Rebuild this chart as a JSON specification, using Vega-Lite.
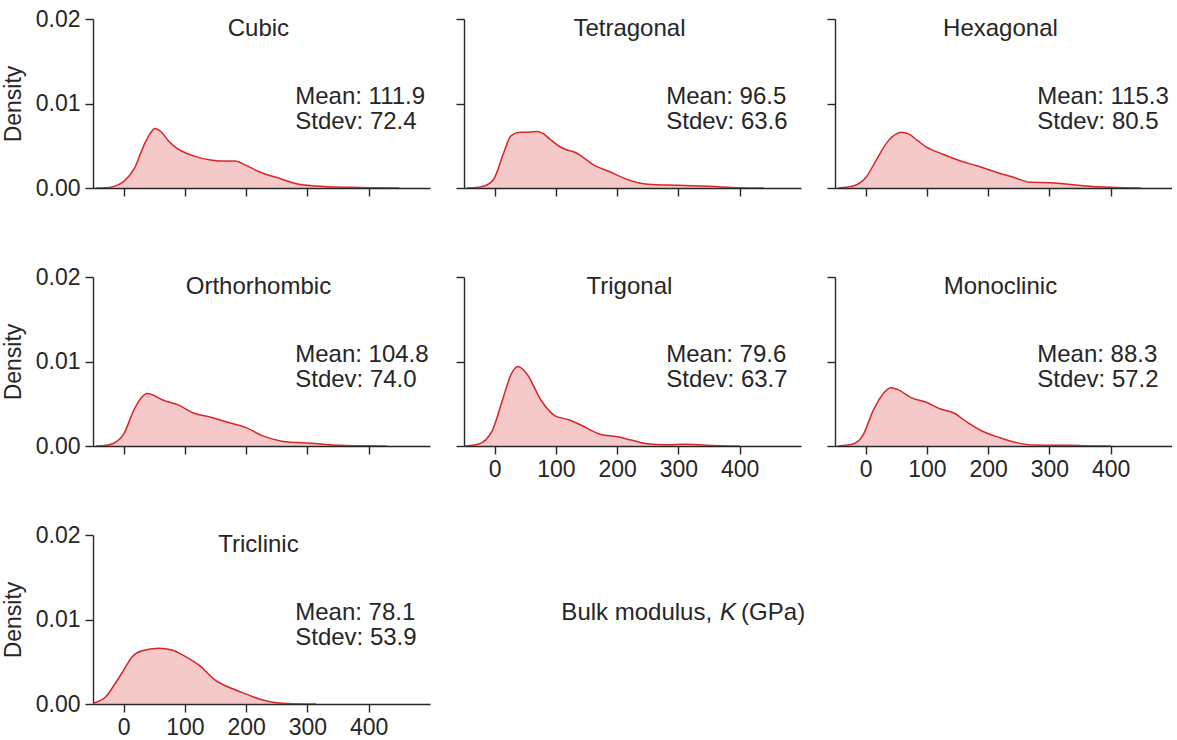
{
  "$schema": "https://vega.github.io/schema/vega-lite/v6.json",
  "padding": {"left": 2, "top": 8, "right": 0, "bottom": 0},
  "background": "white",
  "datasets": {
    "kde": [
      {"system":"Cubic","K":-45,"density":0},{"system":"Cubic","K":-30,"density":0.00003},{"system":"Cubic","K":-17,"density":0.00016},{"system":"Cubic","K":0,"density":0.00075},{"system":"Cubic","K":17,"density":0.00225},{"system":"Cubic","K":34,"density":0.0052},{"system":"Cubic","K":43,"density":0.0064},{"system":"Cubic","K":51,"density":0.00705},{"system":"Cubic","K":62,"density":0.0066},{"system":"Cubic","K":73,"density":0.0056},{"system":"Cubic","K":85,"density":0.0048},{"system":"Cubic","K":114,"density":0.0038},{"system":"Cubic","K":142,"density":0.0033},{"system":"Cubic","K":160,"density":0.0032},{"system":"Cubic","K":182,"density":0.0032},{"system":"Cubic","K":199,"density":0.0027},{"system":"Cubic","K":222,"density":0.0019},{"system":"Cubic","K":256,"density":0.0011},{"system":"Cubic","K":284,"density":0.00047},{"system":"Cubic","K":312,"density":0.00024},{"system":"Cubic","K":369,"density":0.00008},{"system":"Cubic","K":400,"density":0.00003},{"system":"Cubic","K":450,"density":0},
      {"system":"Tetragonal","K":-45,"density":0},{"system":"Tetragonal","K":-30,"density":0.00005},{"system":"Tetragonal","K":-18,"density":0.0002},{"system":"Tetragonal","K":-1,"density":0.0011},{"system":"Tetragonal","K":13,"density":0.0038},{"system":"Tetragonal","K":27,"density":0.0062},{"system":"Tetragonal","K":41,"density":0.0066},{"system":"Tetragonal","K":55,"density":0.0066},{"system":"Tetragonal","K":70,"density":0.0067},{"system":"Tetragonal","K":80,"density":0.0064},{"system":"Tetragonal","K":90,"density":0.0058},{"system":"Tetragonal","K":104,"density":0.005},{"system":"Tetragonal","K":118,"density":0.0045},{"system":"Tetragonal","K":132,"density":0.0042},{"system":"Tetragonal","K":145,"density":0.0036},{"system":"Tetragonal","K":160,"density":0.0028},{"system":"Tetragonal","K":189,"density":0.0019},{"system":"Tetragonal","K":210,"density":0.0012},{"system":"Tetragonal","K":236,"density":0.0006},{"system":"Tetragonal","K":250,"density":0.00045},{"system":"Tetragonal","K":300,"density":0.00032},{"system":"Tetragonal","K":350,"density":0.0002},{"system":"Tetragonal","K":400,"density":0.00004},{"system":"Tetragonal","K":440,"density":0},
      {"system":"Hexagonal","K":-45,"density":0},{"system":"Hexagonal","K":-22,"density":0.0002},{"system":"Hexagonal","K":1,"density":0.0013},{"system":"Hexagonal","K":18,"density":0.0034},{"system":"Hexagonal","K":35,"density":0.0054},{"system":"Hexagonal","K":50,"density":0.0064},{"system":"Hexagonal","K":58,"density":0.0066},{"system":"Hexagonal","K":70,"density":0.0064},{"system":"Hexagonal","K":85,"density":0.0056},{"system":"Hexagonal","K":98,"density":0.0049},{"system":"Hexagonal","K":126,"density":0.004},{"system":"Hexagonal","K":155,"density":0.0032},{"system":"Hexagonal","K":183,"density":0.0026},{"system":"Hexagonal","K":212,"density":0.0019},{"system":"Hexagonal","K":240,"density":0.0013},{"system":"Hexagonal","K":269,"density":0.00067},{"system":"Hexagonal","K":300,"density":0.00063},{"system":"Hexagonal","K":326,"density":0.00047},{"system":"Hexagonal","K":354,"density":0.00028},{"system":"Hexagonal","K":400,"density":0.00008},{"system":"Hexagonal","K":450,"density":0},
      {"system":"Orthorhombic","K":-45,"density":0},{"system":"Orthorhombic","K":-34,"density":0.00002},{"system":"Orthorhombic","K":-17,"density":0.0003},{"system":"Orthorhombic","K":0,"density":0.0014},{"system":"Orthorhombic","K":17,"density":0.0043},{"system":"Orthorhombic","K":30,"density":0.0058},{"system":"Orthorhombic","K":38,"density":0.0062},{"system":"Orthorhombic","K":46,"density":0.0061},{"system":"Orthorhombic","K":62,"density":0.0055},{"system":"Orthorhombic","K":91,"density":0.0048},{"system":"Orthorhombic","K":114,"density":0.0039},{"system":"Orthorhombic","K":142,"density":0.0034},{"system":"Orthorhombic","K":170,"density":0.0028},{"system":"Orthorhombic","K":199,"density":0.0022},{"system":"Orthorhombic","K":227,"density":0.0012},{"system":"Orthorhombic","K":256,"density":0.0006},{"system":"Orthorhombic","K":284,"density":0.0004},{"system":"Orthorhombic","K":312,"density":0.0003},{"system":"Orthorhombic","K":341,"density":0.00012},{"system":"Orthorhombic","K":398,"density":0.00002},{"system":"Orthorhombic","K":430,"density":0},
      {"system":"Trigonal","K":-48,"density":0},{"system":"Trigonal","K":-27,"density":0.0002},{"system":"Trigonal","K":-4,"density":0.0018},{"system":"Trigonal","K":13,"density":0.0055},{"system":"Trigonal","K":27,"density":0.0085},{"system":"Trigonal","K":38,"density":0.0094},{"system":"Trigonal","K":53,"density":0.0085},{"system":"Trigonal","K":75,"density":0.0055},{"system":"Trigonal","K":98,"density":0.0036},{"system":"Trigonal","K":121,"density":0.0031},{"system":"Trigonal","K":143,"density":0.0024},{"system":"Trigonal","K":172,"density":0.0014},{"system":"Trigonal","K":200,"density":0.0011},{"system":"Trigonal","K":223,"density":0.0007},{"system":"Trigonal","K":246,"density":0.0003},{"system":"Trigonal","K":279,"density":0.00016},{"system":"Trigonal","K":312,"density":0.0002},{"system":"Trigonal","K":345,"density":0.0001},{"system":"Trigonal","K":400,"density":0},
      {"system":"Monoclinic","K":-45,"density":0},{"system":"Monoclinic","K":-22,"density":0.0002},{"system":"Monoclinic","K":-5,"density":0.0012},{"system":"Monoclinic","K":13,"density":0.0043},{"system":"Monoclinic","K":30,"density":0.0063},{"system":"Monoclinic","K":41,"density":0.0069},{"system":"Monoclinic","K":52,"density":0.0067},{"system":"Monoclinic","K":75,"density":0.0057},{"system":"Monoclinic","K":98,"density":0.0052},{"system":"Monoclinic","K":121,"density":0.0044},{"system":"Monoclinic","K":144,"density":0.0039},{"system":"Monoclinic","K":166,"density":0.0028},{"system":"Monoclinic","K":189,"density":0.0018},{"system":"Monoclinic","K":218,"density":0.001},{"system":"Monoclinic","K":246,"density":0.0004},{"system":"Monoclinic","K":275,"density":0.00012},{"system":"Monoclinic","K":332,"density":0.00008},{"system":"Monoclinic","K":354,"density":0.00004},{"system":"Monoclinic","K":400,"density":0},
      {"system":"Triclinic","K":-50,"density":0.0001},{"system":"Triclinic","K":-30,"density":0.0008},{"system":"Triclinic","K":-14,"density":0.0024},{"system":"Triclinic","K":0,"density":0.004},{"system":"Triclinic","K":14,"density":0.0056},{"system":"Triclinic","K":30,"density":0.0063},{"system":"Triclinic","K":57,"density":0.0066},{"system":"Triclinic","K":79,"density":0.0064},{"system":"Triclinic","K":101,"density":0.0056},{"system":"Triclinic","K":123,"density":0.0046},{"system":"Triclinic","K":150,"density":0.0028},{"system":"Triclinic","K":178,"density":0.0018},{"system":"Triclinic","K":199,"density":0.0012},{"system":"Triclinic","K":221,"density":0.0006},{"system":"Triclinic","K":249,"density":0.00016},{"system":"Triclinic","K":276,"density":0.00004},{"system":"Triclinic","K":314,"density":0}
    ],
    "stats": [
      {"system":"Cubic","label":"Mean: 111.9\nStdev: 72.4"},
      {"system":"Tetragonal","label":"Mean: 96.5\nStdev: 63.6"},
      {"system":"Hexagonal","label":"Mean: 115.3\nStdev: 80.5"},
      {"system":"Orthorhombic","label":"Mean: 104.8\nStdev: 74.0"},
      {"system":"Trigonal","label":"Mean: 79.6\nStdev: 63.7"},
      {"system":"Monoclinic","label":"Mean: 88.3\nStdev: 57.2"},
      {"system":"Triclinic","label":"Mean: 78.1\nStdev: 53.9"}
    ],
    "caption": [
      {"a":"Bulk modulus,","b":"K","c":"(GPa)"}
    ]
  },
  "bounds": "flush",
  "columns": 3,
  "spacing": {"row": 89, "column": 34},
  "concat": [
      {"width": 337, "height": 169, "layer": [
        {"data": {"name": "kde"}, "transform": [{"filter": "datum.system === 'Cubic'"}],
         "mark": {"type": "area", "interpolate": "monotone", "color": "#d62728", "fillOpacity": 0.25, "line": {"color": "#d62728", "strokeWidth": 1.5}, "clip": true},
         "encoding": {
           "x": {"field": "K", "type": "quantitative", "scale": {"domain": [-50, 500], "nice": false, "zero": false}, "axis": {"values": [0,100,200,300,400], "labels": false, "title": null}},
           "y": {"field": "density", "type": "quantitative", "scale": {"domain": [0, 0.02], "nice": false}, "axis": {"values": [0,0.01,0.02], "format": ".2f", "title": "Density", "labelPadding": 5, "titlePadding": 10}}}},
        {"data": {"name": "stats"}, "transform": [{"filter": "datum.system === 'Cubic'"}],
         "mark": {"type": "text", "align": "center", "baseline": "alphabetic"},
         "encoding": {"x": {"datum": 220, "type": "quantitative"}, "y": {"datum": 0.018, "type": "quantitative"}, "text": {"field": "system"}}},
        {"data": {"name": "stats"}, "transform": [{"filter": "datum.system === 'Cubic'"}],
         "mark": {"type": "text", "align": "left", "baseline": "alphabetic", "lineBreak": "\n", "lineHeight": 25},
         "encoding": {"x": {"datum": 280, "type": "quantitative"}, "y": {"datum": 0.01, "type": "quantitative"}, "text": {"field": "label"}}}
      ]},
      {"width": 337, "height": 169, "layer": [
        {"data": {"name": "kde"}, "transform": [{"filter": "datum.system === 'Tetragonal'"}],
         "mark": {"type": "area", "interpolate": "monotone", "color": "#d62728", "fillOpacity": 0.25, "line": {"color": "#d62728", "strokeWidth": 1.5}, "clip": true},
         "encoding": {
           "x": {"field": "K", "type": "quantitative", "scale": {"domain": [-50, 500], "nice": false, "zero": false}, "axis": {"values": [0,100,200,300,400], "labels": false, "title": null}},
           "y": {"field": "density", "type": "quantitative", "scale": {"domain": [0, 0.02], "nice": false}, "axis": {"values": [0,0.01,0.02], "labels": false, "title": null}}}},
        {"data": {"name": "stats"}, "transform": [{"filter": "datum.system === 'Tetragonal'"}],
         "mark": {"type": "text", "align": "center", "baseline": "alphabetic"},
         "encoding": {"x": {"datum": 220, "type": "quantitative"}, "y": {"datum": 0.018, "type": "quantitative"}, "text": {"field": "system"}}},
        {"data": {"name": "stats"}, "transform": [{"filter": "datum.system === 'Tetragonal'"}],
         "mark": {"type": "text", "align": "left", "baseline": "alphabetic", "lineBreak": "\n", "lineHeight": 25},
         "encoding": {"x": {"datum": 280, "type": "quantitative"}, "y": {"datum": 0.01, "type": "quantitative"}, "text": {"field": "label"}}}
      ]},
      {"width": 337, "height": 169, "layer": [
        {"data": {"name": "kde"}, "transform": [{"filter": "datum.system === 'Hexagonal'"}],
         "mark": {"type": "area", "interpolate": "monotone", "color": "#d62728", "fillOpacity": 0.25, "line": {"color": "#d62728", "strokeWidth": 1.5}, "clip": true},
         "encoding": {
           "x": {"field": "K", "type": "quantitative", "scale": {"domain": [-50, 500], "nice": false, "zero": false}, "axis": {"values": [0,100,200,300,400], "labels": false, "title": null}},
           "y": {"field": "density", "type": "quantitative", "scale": {"domain": [0, 0.02], "nice": false}, "axis": {"values": [0,0.01,0.02], "labels": false, "title": null}}}},
        {"data": {"name": "stats"}, "transform": [{"filter": "datum.system === 'Hexagonal'"}],
         "mark": {"type": "text", "align": "center", "baseline": "alphabetic"},
         "encoding": {"x": {"datum": 220, "type": "quantitative"}, "y": {"datum": 0.018, "type": "quantitative"}, "text": {"field": "system"}}},
        {"data": {"name": "stats"}, "transform": [{"filter": "datum.system === 'Hexagonal'"}],
         "mark": {"type": "text", "align": "left", "baseline": "alphabetic", "lineBreak": "\n", "lineHeight": 25},
         "encoding": {"x": {"datum": 280, "type": "quantitative"}, "y": {"datum": 0.01, "type": "quantitative"}, "text": {"field": "label"}}}
      ]},
      {"width": 337, "height": 169, "layer": [
        {"data": {"name": "kde"}, "transform": [{"filter": "datum.system === 'Orthorhombic'"}],
         "mark": {"type": "area", "interpolate": "monotone", "color": "#d62728", "fillOpacity": 0.25, "line": {"color": "#d62728", "strokeWidth": 1.5}, "clip": true},
         "encoding": {
           "x": {"field": "K", "type": "quantitative", "scale": {"domain": [-50, 500], "nice": false, "zero": false}, "axis": {"values": [0,100,200,300,400], "labels": false, "title": null}},
           "y": {"field": "density", "type": "quantitative", "scale": {"domain": [0, 0.02], "nice": false}, "axis": {"values": [0,0.01,0.02], "format": ".2f", "title": "Density", "labelPadding": 5, "titlePadding": 10}}}},
        {"data": {"name": "stats"}, "transform": [{"filter": "datum.system === 'Orthorhombic'"}],
         "mark": {"type": "text", "align": "center", "baseline": "alphabetic"},
         "encoding": {"x": {"datum": 220, "type": "quantitative"}, "y": {"datum": 0.018, "type": "quantitative"}, "text": {"field": "system"}}},
        {"data": {"name": "stats"}, "transform": [{"filter": "datum.system === 'Orthorhombic'"}],
         "mark": {"type": "text", "align": "left", "baseline": "alphabetic", "lineBreak": "\n", "lineHeight": 25},
         "encoding": {"x": {"datum": 280, "type": "quantitative"}, "y": {"datum": 0.01, "type": "quantitative"}, "text": {"field": "label"}}}
      ]},
      {"width": 337, "height": 169, "layer": [
        {"data": {"name": "kde"}, "transform": [{"filter": "datum.system === 'Trigonal'"}],
         "mark": {"type": "area", "interpolate": "monotone", "color": "#d62728", "fillOpacity": 0.25, "line": {"color": "#d62728", "strokeWidth": 1.5}, "clip": true},
         "encoding": {
           "x": {"field": "K", "type": "quantitative", "scale": {"domain": [-50, 500], "nice": false, "zero": false}, "axis": {"values": [0,100,200,300,400], "title": null, "labelPadding": 4}},
           "y": {"field": "density", "type": "quantitative", "scale": {"domain": [0, 0.02], "nice": false}, "axis": {"values": [0,0.01,0.02], "labels": false, "title": null}}}},
        {"data": {"name": "stats"}, "transform": [{"filter": "datum.system === 'Trigonal'"}],
         "mark": {"type": "text", "align": "center", "baseline": "alphabetic"},
         "encoding": {"x": {"datum": 220, "type": "quantitative"}, "y": {"datum": 0.018, "type": "quantitative"}, "text": {"field": "system"}}},
        {"data": {"name": "stats"}, "transform": [{"filter": "datum.system === 'Trigonal'"}],
         "mark": {"type": "text", "align": "left", "baseline": "alphabetic", "lineBreak": "\n", "lineHeight": 25},
         "encoding": {"x": {"datum": 280, "type": "quantitative"}, "y": {"datum": 0.01, "type": "quantitative"}, "text": {"field": "label"}}}
      ]},
      {"width": 337, "height": 169, "layer": [
        {"data": {"name": "kde"}, "transform": [{"filter": "datum.system === 'Monoclinic'"}],
         "mark": {"type": "area", "interpolate": "monotone", "color": "#d62728", "fillOpacity": 0.25, "line": {"color": "#d62728", "strokeWidth": 1.5}, "clip": true},
         "encoding": {
           "x": {"field": "K", "type": "quantitative", "scale": {"domain": [-50, 500], "nice": false, "zero": false}, "axis": {"values": [0,100,200,300,400], "title": null, "labelPadding": 4}},
           "y": {"field": "density", "type": "quantitative", "scale": {"domain": [0, 0.02], "nice": false}, "axis": {"values": [0,0.01,0.02], "labels": false, "title": null}}}},
        {"data": {"name": "stats"}, "transform": [{"filter": "datum.system === 'Monoclinic'"}],
         "mark": {"type": "text", "align": "center", "baseline": "alphabetic"},
         "encoding": {"x": {"datum": 220, "type": "quantitative"}, "y": {"datum": 0.018, "type": "quantitative"}, "text": {"field": "system"}}},
        {"data": {"name": "stats"}, "transform": [{"filter": "datum.system === 'Monoclinic'"}],
         "mark": {"type": "text", "align": "left", "baseline": "alphabetic", "lineBreak": "\n", "lineHeight": 25},
         "encoding": {"x": {"datum": 280, "type": "quantitative"}, "y": {"datum": 0.01, "type": "quantitative"}, "text": {"field": "label"}}}
      ]},
      {"width": 337, "height": 169, "layer": [
        {"data": {"name": "kde"}, "transform": [{"filter": "datum.system === 'Triclinic'"}],
         "mark": {"type": "area", "interpolate": "monotone", "color": "#d62728", "fillOpacity": 0.25, "line": {"color": "#d62728", "strokeWidth": 1.5}, "clip": true},
         "encoding": {
           "x": {"field": "K", "type": "quantitative", "scale": {"domain": [-50, 500], "nice": false, "zero": false}, "axis": {"values": [0,100,200,300,400], "title": null, "labelPadding": 4}},
           "y": {"field": "density", "type": "quantitative", "scale": {"domain": [0, 0.02], "nice": false}, "axis": {"values": [0,0.01,0.02], "format": ".2f", "title": "Density", "labelPadding": 5, "titlePadding": 10}}}},
        {"data": {"name": "stats"}, "transform": [{"filter": "datum.system === 'Triclinic'"}],
         "mark": {"type": "text", "align": "center", "baseline": "alphabetic"},
         "encoding": {"x": {"datum": 220, "type": "quantitative"}, "y": {"datum": 0.018, "type": "quantitative"}, "text": {"field": "system"}}},
        {"data": {"name": "stats"}, "transform": [{"filter": "datum.system === 'Triclinic'"}],
         "mark": {"type": "text", "align": "left", "baseline": "alphabetic", "lineBreak": "\n", "lineHeight": 25},
         "encoding": {"x": {"datum": 280, "type": "quantitative"}, "y": {"datum": 0.01, "type": "quantitative"}, "text": {"field": "label"}}}
      ]},
      {"width": 337, "height": 169, "data": {"name": "caption"}, "layer": [
        {"mark": {"type": "text", "align": "right", "baseline": "alphabetic", "dx": -8},
         "encoding": {"x": {"datum": 368, "type": "quantitative", "scale": {"domain": [-50, 500], "nice": false, "zero": false}, "axis": null}, "y": {"datum": 0.01, "type": "quantitative", "scale": {"domain": [0, 0.02], "nice": false}, "axis": null}, "text": {"field": "a"}}},
        {"mark": {"type": "text", "align": "left", "baseline": "alphabetic", "fontStyle": "italic"},
         "encoding": {"x": {"datum": 368, "type": "quantitative", "axis": null}, "y": {"datum": 0.01, "type": "quantitative", "axis": null}, "text": {"field": "b"}}},
        {"mark": {"type": "text", "align": "left", "baseline": "alphabetic", "dx": 21},
         "encoding": {"x": {"datum": 368, "type": "quantitative", "axis": null}, "y": {"datum": 0.01, "type": "quantitative", "axis": null}, "text": {"field": "c"}}}
      ]}
  ],
  "config": {
    "font": "Liberation Sans",
    "view": {"stroke": null},
    "axis": {"grid": false, "domainColor": "#262626", "domainWidth": 1.4, "tickColor": "#262626", "tickWidth": 1.4, "tickSize": 8, "labelColor": "#262626", "labelFont": "Liberation Sans", "labelFontSize": 23, "titleFont": "Liberation Sans", "titleFontSize": 23, "titleFontWeight": "normal", "titleColor": "#262626"},
    "text": {"font": "Liberation Sans", "fontSize": 24, "color": "#262626"}
  }
}
